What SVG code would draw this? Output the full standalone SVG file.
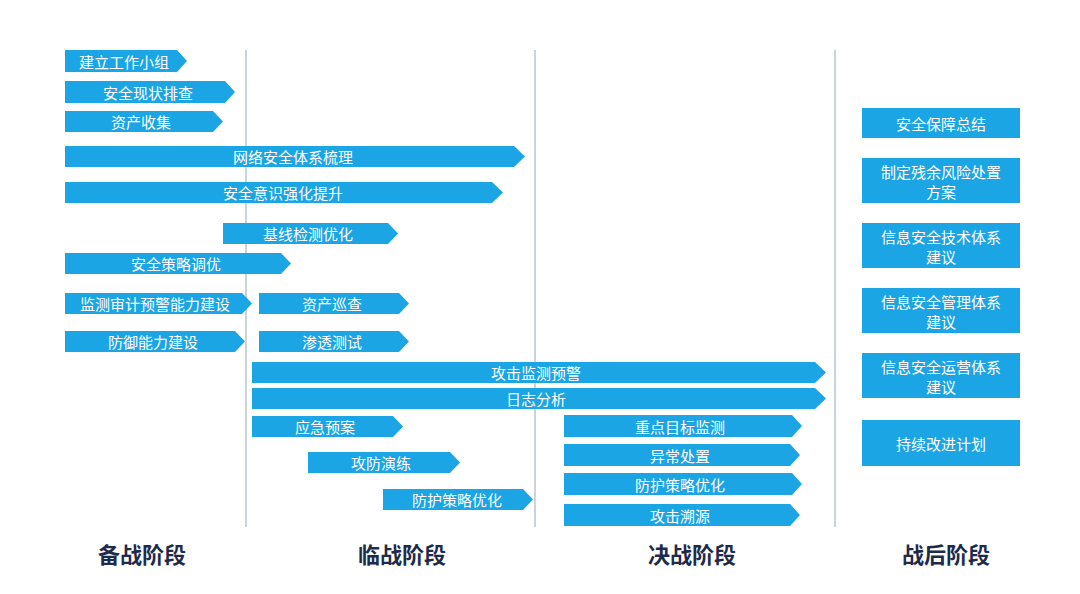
<svg xmlns="http://www.w3.org/2000/svg" width="1080" height="594" viewBox="0 0 1080 594">
<style>
.bar{fill:#1ba5e4;}
.box{fill:#1ba5e4;}
.t{font-family:"Noto Sans CJK SC","Noto Sans",sans-serif;font-size:15px;fill:#ffffff;text-anchor:middle;dominant-baseline:central;}
.ph{font-family:"Noto Sans CJK SC","Noto Sans",sans-serif;font-size:22px;font-weight:bold;fill:#1e2b4d;text-anchor:middle;dominant-baseline:central;}
.div{stroke:#aab5c1;stroke-width:1.2;fill:none;}
</style>
<rect width="1080" height="594" fill="#ffffff"/>
<g id="dividers">
<line class="div" x1="246" y1="50" x2="246" y2="527"/>
<line class="div" x1="535" y1="50" x2="535" y2="527"/>
<line class="div" x1="835" y1="50" x2="835" y2="527"/>
</g>
<g id="n1"><path class="bar" d="M65,50H177L187,61L177,72H65Z"/><text class="t" x="124" y="61">建立工作小组</text></g>
<g id="n2"><path class="bar" d="M65,81H225L235,92L225,103H65Z"/><text class="t" x="148" y="92">安全现状排查</text></g>
<g id="n3"><path class="bar" d="M65,111H213L223,121.5L213,132H65Z"/><text class="t" x="141" y="121.5">资产收集</text></g>
<g id="n4"><path class="bar" d="M65,146H514L525,156.5L514,167H65Z"/><text class="t" x="293" y="156.5">网络安全体系梳理</text></g>
<g id="n5"><path class="bar" d="M65,182H492L503,192.5L492,203H65Z"/><text class="t" x="283" y="192.5">安全意识强化提升</text></g>
<g id="n6"><path class="bar" d="M223,223H388L398,233.5L388,244H223Z"/><text class="t" x="308" y="233.5">基线检测优化</text></g>
<g id="n7"><path class="bar" d="M65,253H281L291,263.5L281,274H65Z"/><text class="t" x="176" y="263.5">安全策略调优</text></g>
<g id="n8"><path class="bar" d="M65,293H242L252,303.5L242,314H65Z"/><text class="t" x="155" y="303.5">监测审计预警能力建设</text></g>
<g id="n9"><path class="bar" d="M259,293H399L409,303.5L399,314H259Z"/><text class="t" x="332" y="303.5">资产巡查</text></g>
<g id="n10"><path class="bar" d="M65,331H235L245,341.5L235,352H65Z"/><text class="t" x="153" y="341.5">防御能力建设</text></g>
<g id="n11"><path class="bar" d="M259,331H399L409,341.5L399,352H259Z"/><text class="t" x="332" y="341.5">渗透测试</text></g>
<g id="n12"><path class="bar" d="M252,362H815L826,372.5L815,383H252Z"/><text class="t" x="536" y="372.5">攻击监测预警</text></g>
<g id="n13"><path class="bar" d="M252,388H815L826,398.5L815,409H252Z"/><text class="t" x="536" y="398.5">日志分析</text></g>
<g id="n14"><path class="bar" d="M252,416H393L403,426.5L393,437H252Z"/><text class="t" x="325" y="426.5">应急预案</text></g>
<g id="n15"><path class="bar" d="M308,452H450L460,462.5L450,473H308Z"/><text class="t" x="381" y="462.5">攻防演练</text></g>
<g id="n16"><path class="bar" d="M383,489H523L533,499.5L523,510H383Z"/><text class="t" x="457" y="499.5">防护策略优化</text></g>
<g id="n17"><path class="bar" d="M564,415H792L802,426L792,437H564Z"/><text class="t" x="680" y="426">重点目标监测</text></g>
<g id="n18"><path class="bar" d="M564,444H790L800,455L790,466H564Z"/><text class="t" x="680" y="455">异常处置</text></g>
<g id="n19"><path class="bar" d="M564,473H792L802,484L792,495H564Z"/><text class="t" x="680" y="484">防护策略优化</text></g>
<g id="n20"><path class="bar" d="M564,504H790L800,515L790,526H564Z"/><text class="t" x="680" y="515">攻击溯源</text></g>
<g id="r1"><rect class="box" x="862" y="108" width="158" height="30"/><text class="t" x="941" y="123">安全保障总结</text></g>
<g id="r2"><rect class="box" x="862" y="158" width="158" height="45"/><text class="t" x="941" y="171.5">制定残余风险处置<tspan x="941" dy="19">方案</tspan></text></g>
<g id="r3"><rect class="box" x="862" y="223" width="158" height="45"/><text class="t" x="941" y="236.5">信息安全技术体系<tspan x="941" dy="19">建议</tspan></text></g>
<g id="r4"><rect class="box" x="862" y="288" width="158" height="45"/><text class="t" x="941" y="301.5">信息安全管理体系<tspan x="941" dy="19">建议</tspan></text></g>
<g id="r5"><rect class="box" x="862" y="353" width="158" height="45"/><text class="t" x="941" y="366.5">信息安全运营体系<tspan x="941" dy="19">建议</tspan></text></g>
<g id="r6"><rect class="box" x="862" y="420" width="158" height="46"/><text class="t" x="941" y="443">持续改进计划</text></g>
<g id="phases">
<text class="ph" x="142" y="553">备战阶段</text>
<text class="ph" x="402" y="553">临战阶段</text>
<text class="ph" x="692" y="553">决战阶段</text>
<text class="ph" x="946" y="553">战后阶段</text>
</g>
</svg>
